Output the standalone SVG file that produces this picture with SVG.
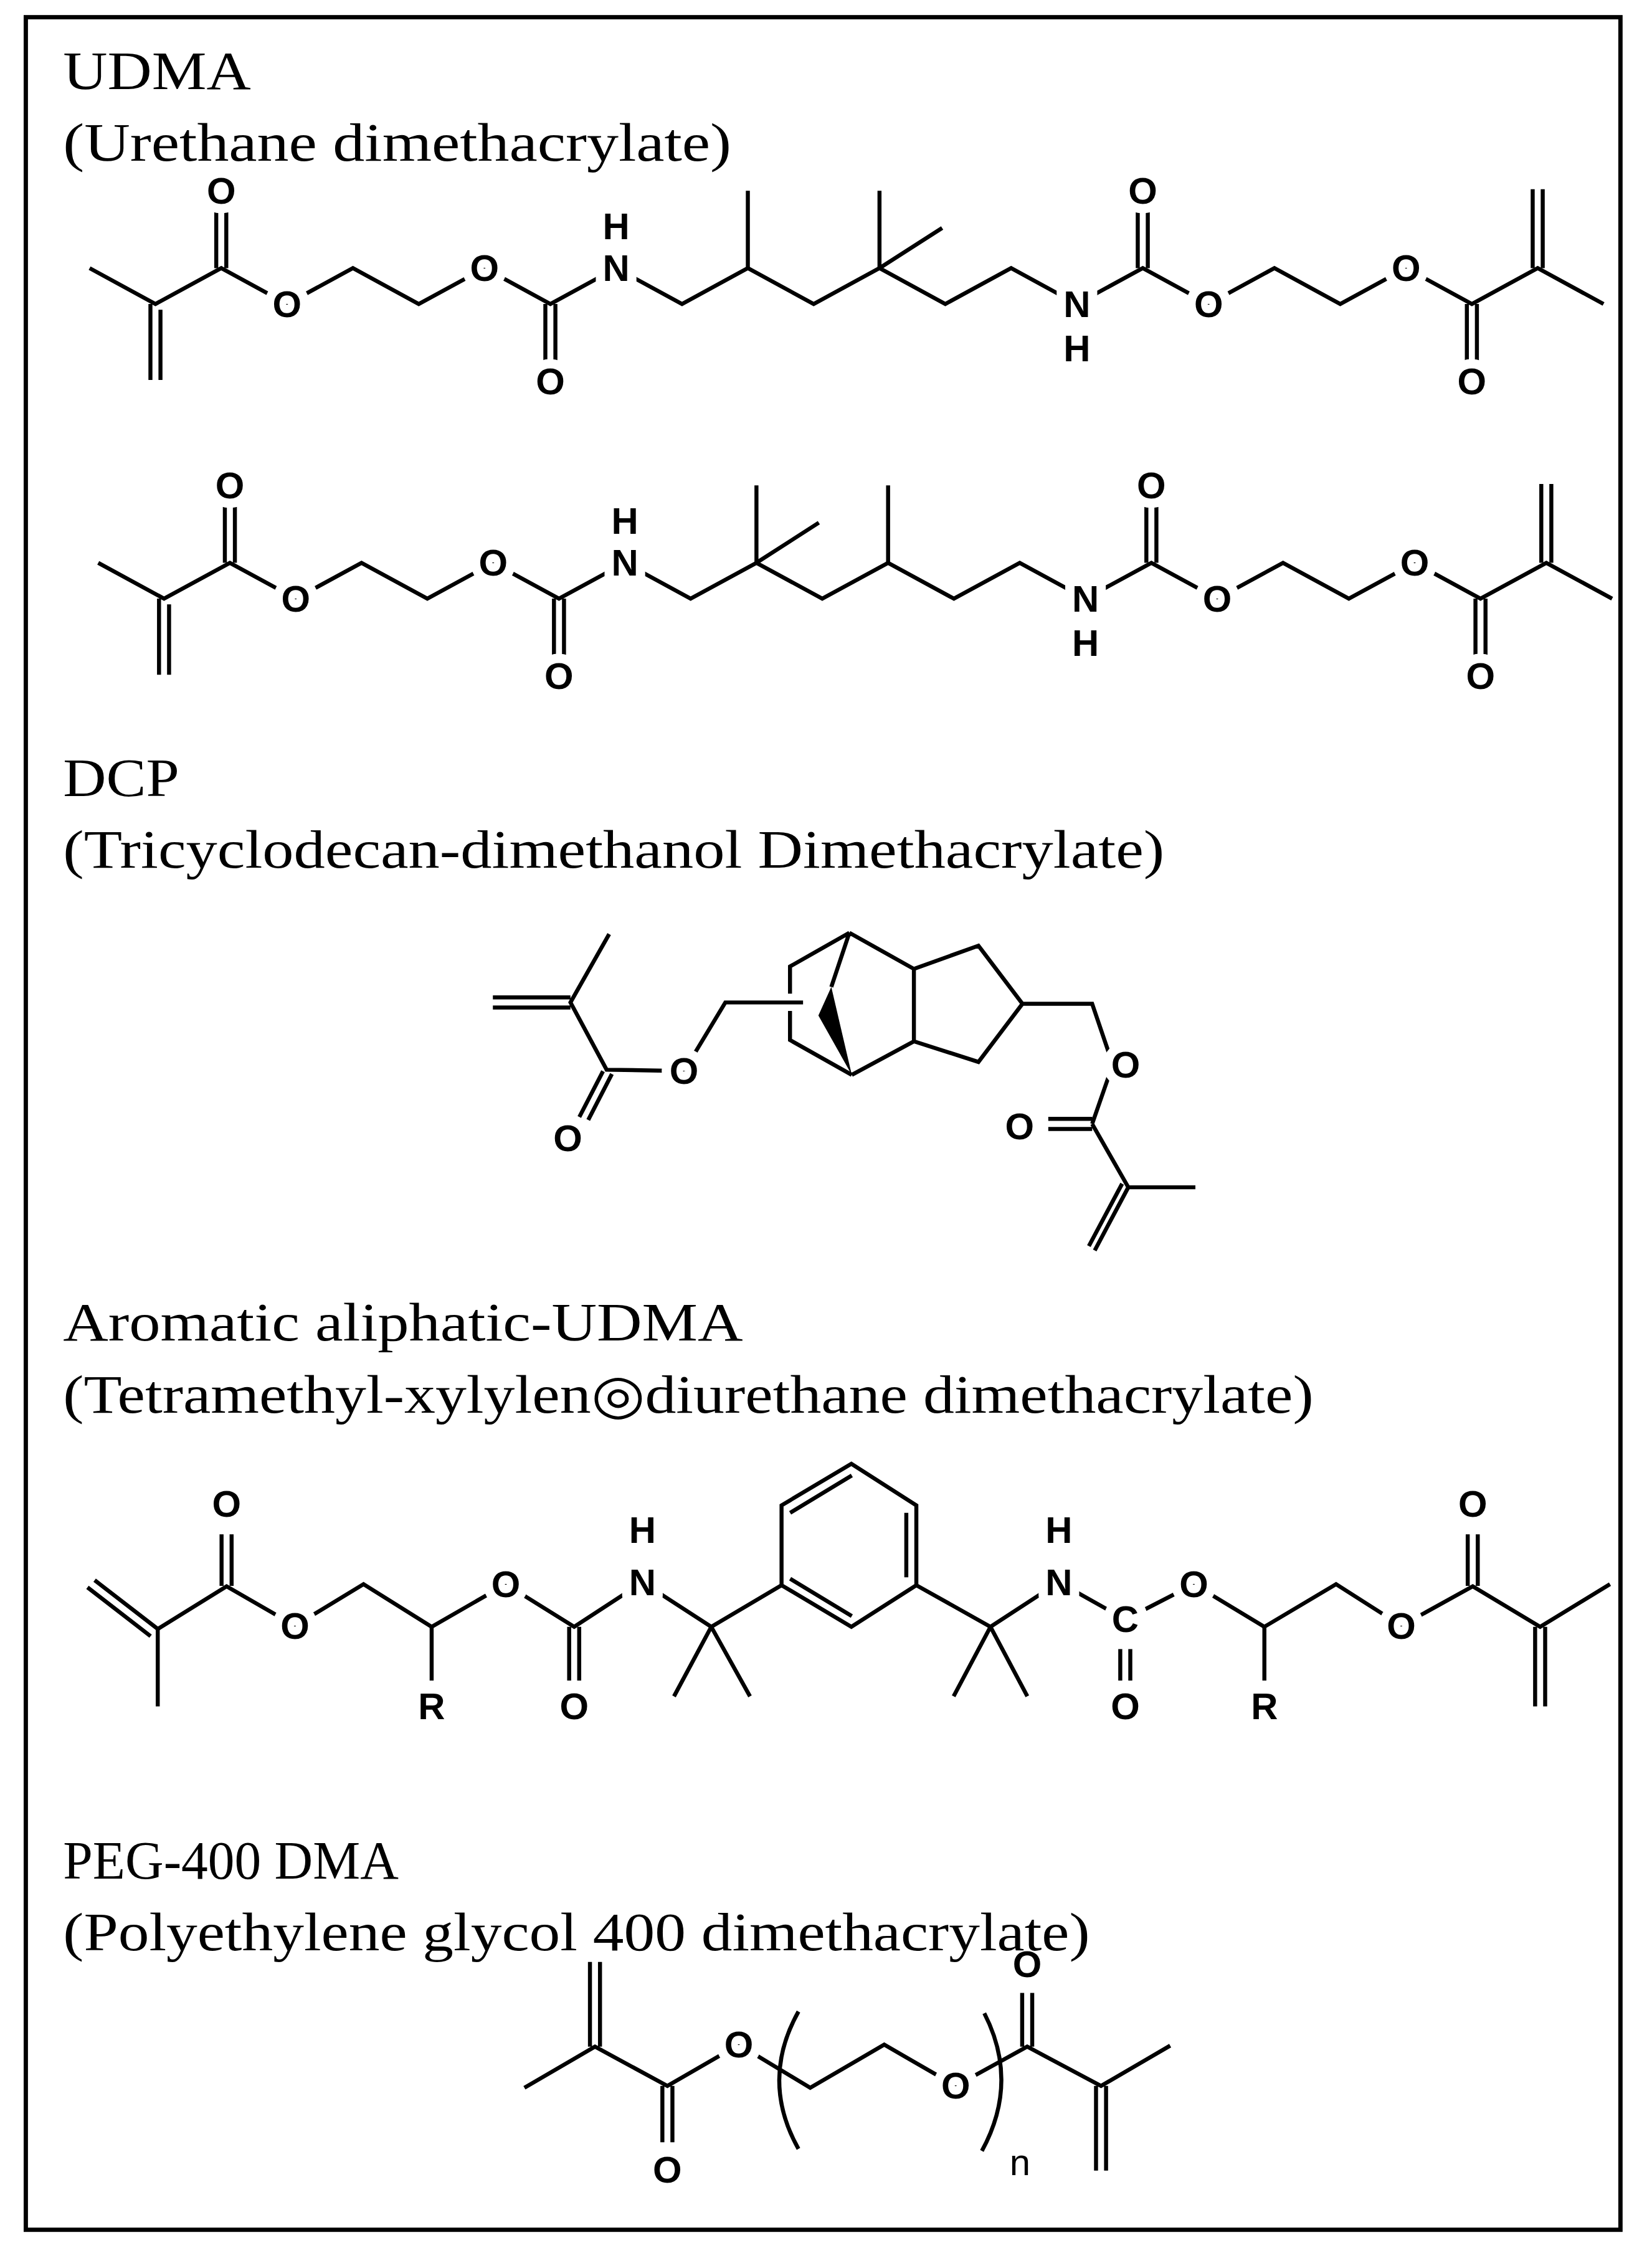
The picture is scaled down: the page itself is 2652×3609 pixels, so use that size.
<svg xmlns="http://www.w3.org/2000/svg" width="2652" height="3609" viewBox="0 0 2652 3609">
<style>
.b{fill:none;stroke:#000;stroke-width:2.8;stroke-linejoin:miter;stroke-linecap:butt}
.t{font-family:"Liberation Serif","Times New Roman",serif;font-size:38px;fill:#000}
.l{font-family:"Liberation Sans",Arial,sans-serif;font-size:26px;font-weight:bold;text-anchor:middle;dominant-baseline:central;fill:#000;stroke:#fff;stroke-width:13px;stroke-linejoin:round;paint-order:stroke}
</style>
<rect width="2652" height="3609" fill="#fff"/>
<g transform="scale(2.302083)">
<rect x="18" y="12" width="1112" height="1543" fill="none" stroke="#000" stroke-width="3"/>
<g id="udma1">
<polyline class="b" points="62.5,187 108.4,212 154.3,187 200.2,212 246.1,187 292,212 337.9,187 383.8,212 429.7,187 475.6,212 521.5,187 567.4,212 613.3,187 659.2,212 705.1,187 751,212 796.9,187 842.8,212 888.7,187 934.6,212 980.5,187 1026.4,212 1072.3,187 1118.2,212"/>
<path class="b" d="M104.9,212V265M111.9,216V265M150.8,187V148M157.8,187V148M380.3,212V252M387.3,212V252M521.5,187V133M613.3,187V133M613.3,187L657,159M793.4,187V148M800.4,187V148M1022.9,212V252M1029.9,212V252M1068.8,187V132M1075.8,187V132"/>
<text class="l" x="154.3" y="133">O</text><text class="l" x="200.2" y="212">O</text><text class="l" x="337.9" y="187">O</text>
<text class="l" x="383.8" y="266">O</text><text class="l" x="429.7" y="187">N</text><text class="l" x="429.7" y="158">H</text>
<text class="l" x="751" y="212">N</text><text class="l" x="751" y="243">H</text><text class="l" x="796.9" y="133">O</text>
<text class="l" x="842.8" y="212">O</text><text class="l" x="980.5" y="187">O</text><text class="l" x="1026.4" y="266">O</text>
</g>
<g id="udma2" transform="translate(6,205.5)">
<polyline class="b" points="62.5,187 108.4,212 154.3,187 200.2,212 246.1,187 292,212 337.9,187 383.8,212 429.7,187 475.6,212 521.5,187 567.4,212 613.3,187 659.2,212 705.1,187 751,212 796.9,187 842.8,212 888.7,187 934.6,212 980.5,187 1026.4,212 1072.3,187 1118.2,212"/>
<path class="b" d="M104.9,212V265M111.9,216V265M150.8,187V148M157.8,187V148M380.3,212V252M387.3,212V252M521.5,187V133M521.5,187L565,159M613.3,187V133M793.4,187V148M800.4,187V148M1022.9,212V252M1029.9,212V252M1068.8,187V132M1075.8,187V132"/>
<text class="l" x="154.3" y="133">O</text><text class="l" x="200.2" y="212">O</text><text class="l" x="337.9" y="187">O</text>
<text class="l" x="383.8" y="266">O</text><text class="l" x="429.7" y="187">N</text><text class="l" x="429.7" y="158">H</text>
<text class="l" x="751" y="212">N</text><text class="l" x="751" y="243">H</text><text class="l" x="796.9" y="133">O</text>
<text class="l" x="842.8" y="212">O</text><text class="l" x="980.5" y="187">O</text><text class="l" x="1026.4" y="266">O</text>
</g>
<g id="dcp">
<path class="b" d="M424.8,651.4L397.8,699.1L423,746L477,746.9M397.8,695.6H343.7M397.8,702.6H343.7M420.5,747L404,779M426.7,749L410.2,781M477,746.9L505.8,699.1H560M592.3,650.5L550.9,674V693M550.9,705V725.3L594,749.6M592.3,650.5L579.7,688.3M592.3,650.5L637.3,675.7V726.2L594,749.6M637.3,675.7L682.3,659.5L713,700L682.3,740.6L637.3,726.2M713,700H761.6L776,742.4M776,742.4L761.6,783.8M761.6,780.3H731M761.6,787.3H731M761.6,783.8L786.8,828H833.6M786.8,828L763.4,872M782.5,825.5L759.3,869"/>
<polygon points="579.7,688.3 570.7,708.2 594,749.6" fill="#000"/>
<text class="l" x="396" y="793.7">O</text><text class="l" x="477" y="746.9">O</text><text class="l" x="785" y="742.4">O</text><text class="l" x="711" y="785.6">O</text>
</g>
<g id="aromatic-udma">
<polyline class="b" points="110,1136 158,1106.3 205.7,1133.8 253.5,1104.8 301,1134.5 352.7,1104.8 400.4,1134.5 448,1103.4 496,1134.5 545,1105.5"/>
<polyline class="b" points="639,1105.5 690.7,1134.5 738.4,1103.4 784.7,1129.4 832.5,1104.8 881.7,1134.5 931.7,1104.8 977.2,1133.8 1027,1106.3 1074,1134.5 1122.7,1104.8"/>
<path class="b" d="M110,1136L66,1102M105,1141L61,1107M110,1136V1190M154.5,1106V1070M161.5,1106V1070M301,1134.5V1172M396.9,1134.5V1172M403.9,1134.5V1172M496,1134.5L470,1183M496,1134.5L523,1183M545,1105.5V1049.8L593.7,1020.8L639,1049.8V1105.5L593.7,1134.5L545,1105.5M551,1055L594,1029M632,1055V1100M551,1101L594,1127M690.7,1134.5L665,1183M690.7,1134.5L716.4,1183M781.2,1150V1172M788.2,1150V1172M881.7,1134.5V1172M1023.5,1106V1070M1030.5,1106V1070M1070.5,1134.5V1190M1077.5,1134.5V1190"/>
<text class="l" x="158" y="1049">O</text><text class="l" x="205.7" y="1133.8">O</text><text class="l" x="301" y="1190">R</text>
<text class="l" x="352.7" y="1104.8">O</text><text class="l" x="400.4" y="1190">O</text><text class="l" x="448" y="1103.4">N</text><text class="l" x="448" y="1067">H</text>
<text class="l" x="738.4" y="1103.4">N</text><text class="l" x="738.4" y="1067">H</text><text class="l" x="784.7" y="1129.4">C</text><text class="l" x="784.7" y="1190">O</text>
<text class="l" x="832.5" y="1104.8">O</text><text class="l" x="881.7" y="1190">R</text><text class="l" x="977.2" y="1133.8">O</text><text class="l" x="1027" y="1049">O</text>
</g>
<g id="peg400dma">
<path class="b" d="M365.7,1456L414.9,1427.3L465.4,1454.7L515.2,1425.9L565,1456L616.6,1425.9L666.5,1454.7L716.3,1427.3L767.8,1454.7L816,1426.6M411.4,1427.3V1368.2M418.4,1427.3V1368.2M461.9,1454.7V1494M468.9,1454.7V1494M712.8,1427.3V1389.8M719.8,1427.3V1389.8M764.3,1454.7V1513.7M771.3,1454.7V1513.7M556.8,1402.8Q530,1450.7 556.8,1498.6M686.4,1404Q711,1452 684.7,1500"/>
<text class="l" x="465.4" y="1513">O</text><text class="l" x="515.2" y="1425.9">O</text><text class="l" x="666.5" y="1454.7">O</text><text class="l" x="716.3" y="1370">O</text>
<text x="711.3" y="1517" font-family="Liberation Sans, Arial, sans-serif" font-size="26" text-anchor="middle" fill="#000">n</text>
</g>
<g id="titles">
<text class="t" x="44" y="62" textLength="131" lengthAdjust="spacingAndGlyphs">UDMA</text>
<text class="t" x="44" y="112" textLength="466" lengthAdjust="spacingAndGlyphs">(Urethane dimethacrylate)</text>
<text class="t" x="44" y="555" textLength="81" lengthAdjust="spacingAndGlyphs">DCP</text>
<text class="t" x="44" y="605" textLength="768" lengthAdjust="spacingAndGlyphs">(Tricyclodecan-dimethanol Dimethacrylate)</text>
<text class="t" x="44" y="935" textLength="474" lengthAdjust="spacingAndGlyphs">Aromatic aliphatic-UDMA</text>
<text class="t" x="44" y="985" textLength="872" lengthAdjust="spacingAndGlyphs">(Tetramethyl-xylylen◎diurethane dimethacrylate)</text>
<text class="t" x="44" y="1310" textLength="234" lengthAdjust="spacingAndGlyphs">PEG-400 DMA</text>
<text class="t" x="44" y="1360" textLength="716" lengthAdjust="spacingAndGlyphs">(Polyethylene glycol 400 dimethacrylate)</text>
</g>
</g>
</svg>
